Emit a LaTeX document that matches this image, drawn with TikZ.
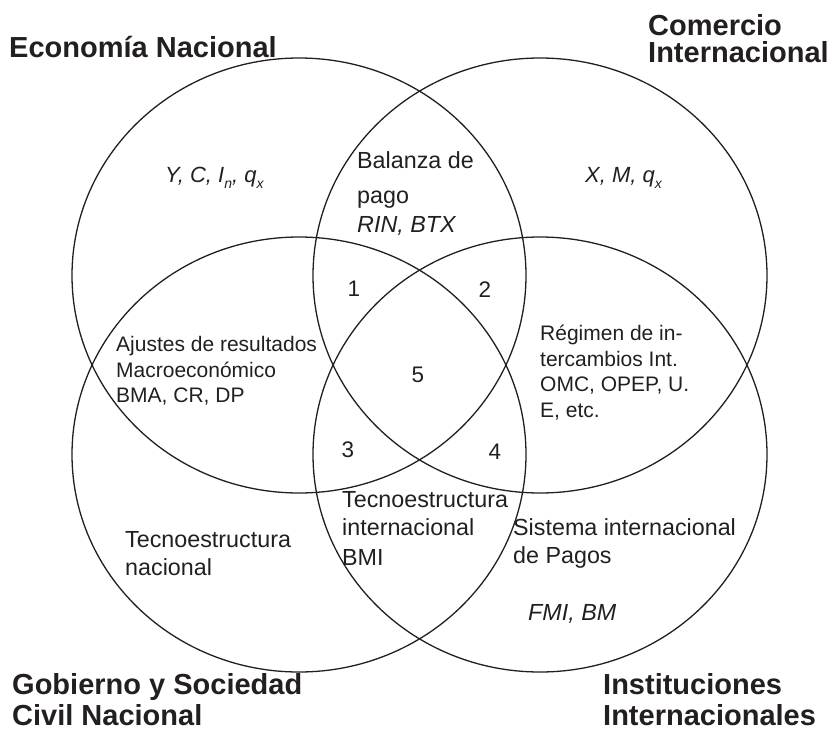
\documentclass[tikz,border=0pt]{standalone}
\usepackage{fontspec}
\setmainfont{Liberation Sans}
\definecolor{ink}{RGB}{35,31,32}
\newcommand{\sbx}[1]{\raisebox{-0.3em}{\fontsize{14}{14}\selectfont #1}}
\begin{document}
\begin{tikzpicture}[x=1pt,y=-1pt,
  ring/.style={draw=ink,line width=1.3pt},
  ttl/.style={anchor=base west,inner sep=0pt,text=ink,font=\fontsize{29}{33}\selectfont\bfseries},
  lbl/.style={anchor=base west,inner sep=0pt,text=ink,font=\fontsize{23.3}{28}\selectfont},
  sml/.style={anchor=base west,inner sep=0pt,text=ink,font=\fontsize{21}{25}\selectfont},
  num/.style={anchor=base,inner sep=0pt,text=ink,font=\fontsize{22.5}{26}\selectfont}]
\useasboundingbox (0,0) rectangle (833,731);
% circles
\draw[ring] (299,275.5) ellipse [x radius=227pt, y radius=217.5pt];
\draw[ring] (540,275.5) ellipse [x radius=227pt, y radius=217.5pt];
\draw[ring] (299,454.5) ellipse [x radius=227pt, y radius=217.5pt];
\draw[ring] (540,454.5) ellipse [x radius=227pt, y radius=217.5pt];
% titles
\node[ttl] (t1) at (9,57) {Economía Nacional};
\node[ttl] (t2a) at (648,35) {Comercio};
\node[ttl] (t2b) at (648,62) {Internacional};
\node[ttl] (t3a) at (12,694) {Gobierno y Sociedad};
\node[ttl] (t3b) at (12,725) {Civil Nacional};
\node[ttl] (t4a) at (603,694) {Instituciones};
\node[ttl] (t4b) at (603,725) {Internacionales};
% region texts
\node[sml,font=\fontsize{22}{26}\selectfont\itshape] (ya) at (165,182) {Y, C, I\sbx{n}, q\sbx{x}};
\node[sml,font=\fontsize{22}{26}\selectfont\itshape] (xa) at (585,182) {X, M, q\sbx{x}};
\node[lbl] (ba) at (357,168) {Balanza de};
\node[lbl] (bb) at (357,203) {pago};
\node[lbl,font=\fontsize{23.3}{28}\selectfont\itshape] (bc) at (357,232) {RIN, BTX};
\node[sml] (aa) at (116,351) {Ajustes de resultados};
\node[sml] (ab) at (116,377) {Macroeconómico};
\node[sml] (ac) at (116,402) {BMA, CR, DP};
\node[sml] (ra) at (540,340) {Régimen de in-};
\node[sml] (rb) at (540,366) {tercambios Int.};
\node[sml] (rc) at (540,391) {OMC, OPEP, U.};
\node[sml] (rd) at (540,417) {E, etc.};
\node[lbl] (ia) at (342,507) {Tecnoestructura};
\node[lbl] (ib) at (342,535) {internacional};
\node[lbl] (ic) at (342,565) {BMI};
\node[lbl] (na) at (125,547) {Tecnoestructura};
\node[lbl] (nb) at (125,575) {nacional};
\node[lbl] (sa) at (513,535) {Sistema internacional};
\node[lbl] (sb) at (513,563) {de Pagos};
\node[lbl,font=\fontsize{23.3}{28}\selectfont\itshape] (fa) at (528,620) {FMI, BM};
% numbers
\node[num] (n1) at (354,296) {1};
\node[num] (n2) at (485,297) {2};
\node[num] (n5) at (418,382) {5};
\node[num] (n3) at (348,457) {3};
\node[num] (n4) at (495,459) {4};
\end{tikzpicture}
\end{document}
